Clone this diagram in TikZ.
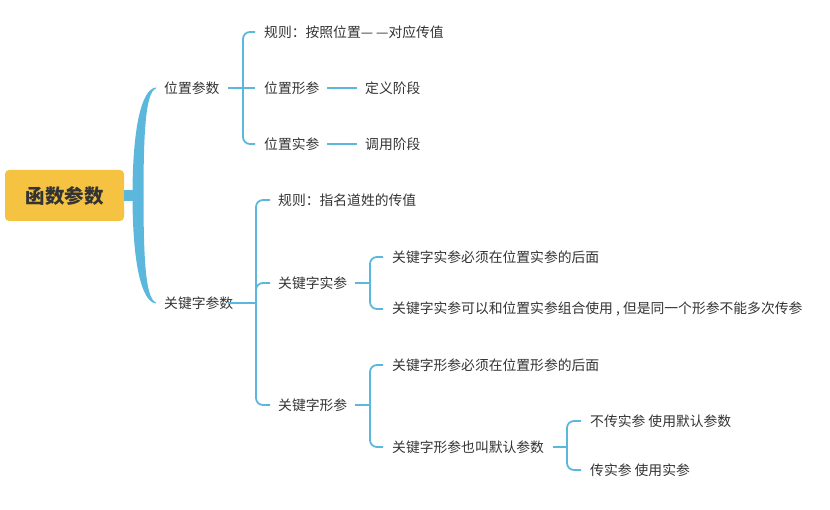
\documentclass[tikz,border=0pt]{standalone}
\usepackage{fontspec}
\setmainfont{Noto Sans CJK SC}
\newfontfamily\cjk{Noto Sans CJK SC}
\definecolor{lineblue}{HTML}{5BB8DC}
\definecolor{rootfill}{HTML}{F5C242}
\definecolor{txt}{HTML}{333333}
\begin{document}
\begin{tikzpicture}[x=1pt,y=-1pt,
  lbl/.style={anchor=west,inner sep=0pt,font=\cjk\fontsize{13.8}{15}\selectfont,text=txt},
  br/.style={draw=lineblue,line width=1.8pt,rounded corners=7pt},
  ln/.style={draw=lineblue,line width=1.8pt}]
\useasboundingbox (0,0) rectangle (830,510);
% root
\node[fill=rootfill,rounded corners=4pt,minimum width=119pt,minimum height=51pt,inner sep=0pt,
  font=\cjk\bfseries\fontsize{19.5}{22}\selectfont,text=txt] (root) at (64.5,195.5) {函数参数};
% trunk
\fill[lineblue] (root.east |- 0,190.5) rectangle (140,201);
\fill[lineblue] (156,87.5) .. controls (141,89) and (132.5,130) .. (132.5,195.5)
  .. controls (132.5,261) and (141,302) .. (156,303.5) -- (156,302.5)
  .. controls (146,299) and (143.5,262) .. (143.5,195.5)
  .. controls (143.5,129) and (146,92) .. (156,88.5) -- cycle;
% level 2
\node[lbl] (pos) at (164,88) {位置参数};
\node[lbl] (kw) at (164,303) {关键字参数};
% position branch
\node[lbl] (r1) at (264,32) {规则：按照位置— —对应传值};
\node[lbl] (pf) at (264,88) {位置形参};
\node[lbl] (pa) at (264,144) {位置实参};
\node[lbl] (pfd) at (365,88) {定义阶段};
\node[lbl] (pad) at (365,144) {调用阶段};
\coordinate (b1) at (243,88);
\draw[ln] (228,88) -- (b1);
\draw[br] ([xshift=-9pt]r1.west) -| (b1) |- ([xshift=-9pt]pa.west);
\draw[ln] (b1) -- ([xshift=-9pt]pf.west);
\draw[ln] (327,88) -- ([xshift=-8pt]pfd.west);
\draw[ln] (327,144) -- ([xshift=-8pt]pad.west);
% keyword branch
\node[lbl] (r2) at (278,200) {规则：指名道姓的传值};
\node[lbl] (ka) at (278,283) {关键字实参};
\node[lbl] (kf) at (278,405) {关键字形参};
\coordinate (b2) at (256,303);
\draw[ln] (228,303) -- (b2);
\draw[br] ([xshift=-8pt]r2.west) -| (b2) |- ([xshift=-8pt]kf.west);
\draw[br] (b2) |- ([xshift=-8pt]ka.west);
% keyword actual
\node[lbl] (ka1) at (392,257) {关键字实参必须在位置实参的后面};
\node[lbl] (ka2) at (392,309) {关键字实参可以和位置实参组合使用 , 但是同一个形参不能多次传参};
\coordinate (b3) at (370,283);
\draw[ln] (355,283) -- (b3);
\draw[br] ([xshift=-9pt]ka1.west) -| (b3) |- ([xshift=-9pt]ka2.west);
% keyword formal
\node[lbl] (kf1) at (392,365) {关键字形参必须在位置形参的后面};
\node[lbl] (kf2) at (392,447) {关键字形参也叫默认参数};
\coordinate (b4) at (370,405);
\draw[ln] (355,405) -- (b4);
\draw[br] ([xshift=-9pt]kf1.west) -| (b4) |- ([xshift=-9pt]kf2.west);
% default
\node[lbl] (d1) at (590,421) {不传实参 使用默认参数};
\node[lbl] (d2) at (590,470) {传实参 使用实参};
\coordinate (b5) at (567,447);
\draw[ln] (553,447) -- (b5);
\draw[br] ([xshift=-9pt]d1.west) -| (b5) |- ([xshift=-9pt]d2.west);
\end{tikzpicture}
\end{document}
